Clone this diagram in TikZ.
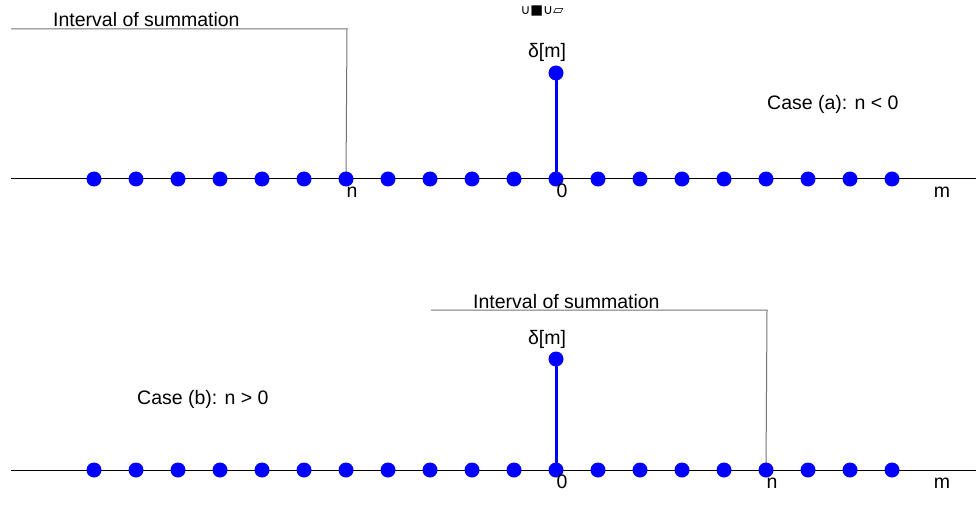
\documentclass[tikz,border=0pt]{standalone}
\usepackage{fontspec}
\setmainfont{Liberation Sans}
\newfontfamily\symfont{DejaVu Sans}
\begin{document}
\begin{tikzpicture}[x=1pt,y=-1pt,
  lbl/.style={inner sep=0pt,font=\fontsize{19.5}{23}\selectfont},
  dot/.style={circle,fill=blue,inner sep=0pt,minimum size=15pt},
  stem/.style={draw=blue,line width=3pt},
  axis/.style={draw=black,line width=1pt},
  bracket/.style={draw=black!55,line width=1pt}]
\useasboundingbox (0,0) rectangle (976,505);

% ---------- case (a): n < 0 ----------
\coordinate (aL) at (11,179);
\coordinate (aR) at (976,179);
\coordinate (aTop) at (556,73);
\coordinate (aB1) at (11,29);
\coordinate (aB2) at (347,29);
\coordinate (aN) at (346,179);
\coordinate (aZ) at (556,179);
\draw[axis] (aL) -- (aR);
\draw[bracket] (aB1) -- (aB2) -- (aN);
\draw[stem] (aZ) -- (aTop);
\foreach \k in {-11,...,8}
  \node[dot] (a\k) at ({556+42*\k},179) {};
\node[dot] (ap) at (aTop) {};
\node[lbl,anchor=base west] (aint) at (53,27) {Interval of summation};
\node[lbl,anchor=base] (adelta) at (547,58) {δ[m]};
\node[lbl,anchor=base] (an) at (352,197) {n};
\node[lbl,anchor=base] (a0) at (562,197) {0};
\node[lbl,anchor=base] (am) at (942,197) {m};
\node[lbl,anchor=base west] (acase) at (767,110) {Case (a): n < 0};
\node[inner sep=0pt,font=\symfont\fontsize{13.5}{14}\selectfont] (glyphs) at (542,11) {∪■∪▱};

% ---------- case (b): n > 0 ----------
\coordinate (bL) at (11,470);
\coordinate (bR) at (976,470);
\coordinate (bTop) at (556,359);
\coordinate (bB1) at (431,310);
\coordinate (bB2) at (767,310);
\coordinate (bN) at (766,470);
\coordinate (bZ) at (556,470);
\draw[axis] (bL) -- (bR);
\draw[bracket] (bB1) -- (bB2) -- (bN);
\draw[stem] (bZ) -- (bTop);
\foreach \k in {-11,...,8}
  \node[dot] (b\k) at ({556+42*\k},470) {};
\node[dot] (bp) at (bTop) {};
\node[lbl,anchor=base west] (bint) at (473,308) {Interval of summation};
\node[lbl,anchor=base] (bdelta) at (547,344) {δ[m]};
\node[lbl,anchor=base] (b0) at (562,488) {0};
\node[lbl,anchor=base] (bn) at (772,488) {n};
\node[lbl,anchor=base] (bm) at (942,488) {m};
\node[lbl,anchor=base west] (bcase) at (137,404) {Case (b): n > 0};
\end{tikzpicture}
\end{document}
